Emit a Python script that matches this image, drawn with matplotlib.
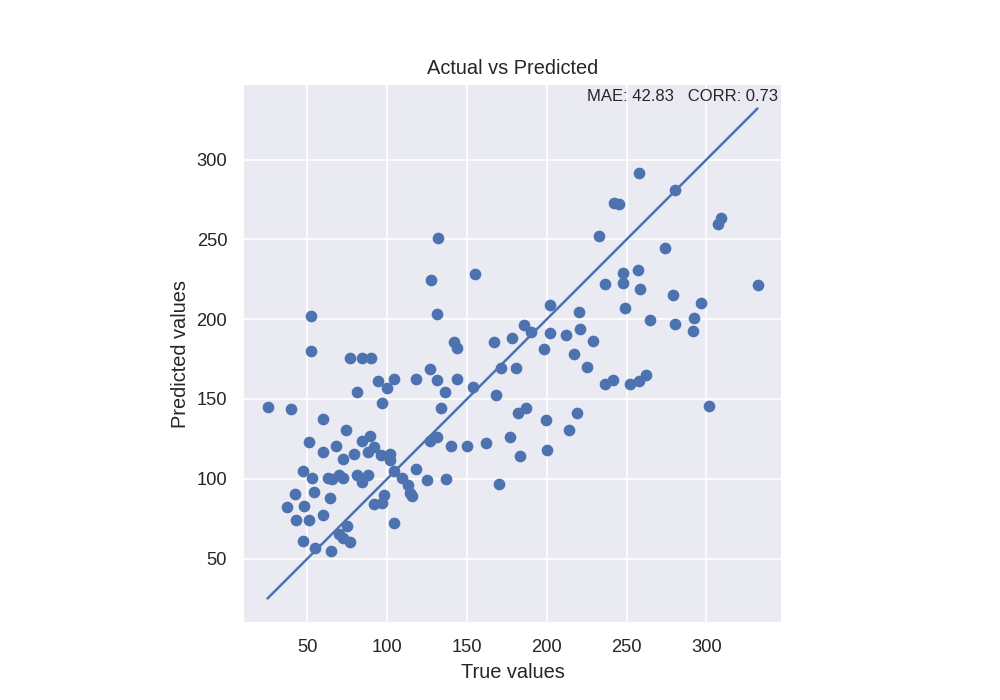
from matplotlib import pyplot as plt
import seaborn as sns
import numpy as np

# true / predicted values
y_true = [25, 40, 37.3, 42.5, 43.1, 47.5, 47.9, 47.5, 51.3, 51.3,
          52.5, 52.5, 53.1, 54.4, 55, 59.8, 60, 60, 63.1, 64.4,
          65.3, 65, 68.1, 69.6, 70, 72.3, 72.3, 72.3, 74.4, 75,
          76.7, 76.9, 79.4, 81.1, 81.1, 84.2, 84.4, 84.2, 87.9, 88.1,
          89.2, 90, 91.9, 91.9, 94.4, 96.1, 96.5, 96.9, 98.1, 99.8,
          101.9, 101.9, 104.4, 104.4, 104.4, 109.4, 113.1, 114.4, 115.3, 117.9,
          117.9, 124.8, 126.5, 127.5, 126.9, 131.3, 131.3, 131.1, 131.7, 133.8,
          136.3, 136.7, 140, 141.7, 143.8, 143.8, 150, 153.8, 155, 161.9,
          166.7, 168.1, 170, 171.3, 176.9, 177.9, 180.6, 181.9, 183.1, 185.6,
          186.9, 190.4, 198.1, 199.8, 200, 201.7, 201.9, 211.9, 213.6, 216.9,
          218.6, 220, 220.6, 225, 228.8, 232.9, 236.7, 236.7, 241.7, 242.3,
          245, 247.5, 247.5, 248.8, 251.9, 257.5, 256.9, 257.5, 258.6, 261.9,
          264.8, 273.8, 278.8, 280.6, 280.4, 291.9, 292.5, 296.9, 301.9, 307.5,
          309.4, 332]

y_pred = [144.8, 143.6, 82.3, 90.6, 74.4, 104.8, 82.9, 61.3, 74.4, 122.9,
          201.7, 179.8, 100.4, 91.7, 56.7, 137.3, 116.7, 77.3, 100.4, 87.9,
          99.8, 55, 120.6, 102.1, 65.6, 100.4, 112.3, 62.7, 130.6, 70.4,
          175.4, 60.4, 115.6, 102.5, 154.4, 175.4, 123.4, 98.1, 116.7, 102.5,
          126.9, 175.4, 120, 84.4, 161.3, 114.8, 84.8, 147.5, 89.8, 156.7,
          115.6, 111.9, 104.8, 162.5, 72.5, 100.4, 95.8, 91.4, 89.2, 106.3,
          162.5, 99.2, 168.6, 224.8, 123.9, 161.7, 126.1, 203.1, 250.6, 144.2,
          154.6, 99.8, 120.6, 185.6, 181.7, 162.3, 120.6, 157.3, 228.6, 122.5,
          185.4, 152.5, 96.9, 169.2, 126.1, 187.9, 169.2, 141.3, 114.4, 196.1,
          144.2, 191.7, 181.1, 136.7, 117.9, 208.6, 191.1, 189.8, 130.4, 177.9,
          141.3, 204.2, 193.6, 170, 186.1, 251.9, 222.3, 159.2, 161.7, 272.9,
          271.9, 229.2, 222.9, 206.7, 159.2, 161.1, 230.6, 291.7, 218.8, 164.8,
          199.8, 244.8, 215.4, 281.1, 196.9, 192.9, 200.6, 210.4, 145.4, 259.4,
          263.1, 221.7]

mae = 42.83
corr = 0.73

sns.set_theme()
plt.rcParams['font.family'] = ['Liberation Sans', 'DejaVu Sans']

fig, ax = plt.subplots(figsize=(1000 / 120, 700 / 120), dpi=120)
ax.scatter(y_true, y_pred)
ax.plot([min(y_true), max(y_true)], [min(y_true), max(y_true)])
ax.set_aspect('equal')
ax.set_title('Actual vs Predicted')
ax.set_xlabel('True values')
ax.set_ylabel('Predicted values')
ax.set_xticks([50, 100, 150, 200, 250, 300])
ax.set_yticks([50, 100, 150, 200, 250, 300])
ax.text(0.992, 0.991, f'MAE: {mae:.2f}   CORR: {corr:.2f}', transform=ax.transAxes,
        ha='right', va='top', fontsize=10)

fig.savefig('out.png', dpi=120)
